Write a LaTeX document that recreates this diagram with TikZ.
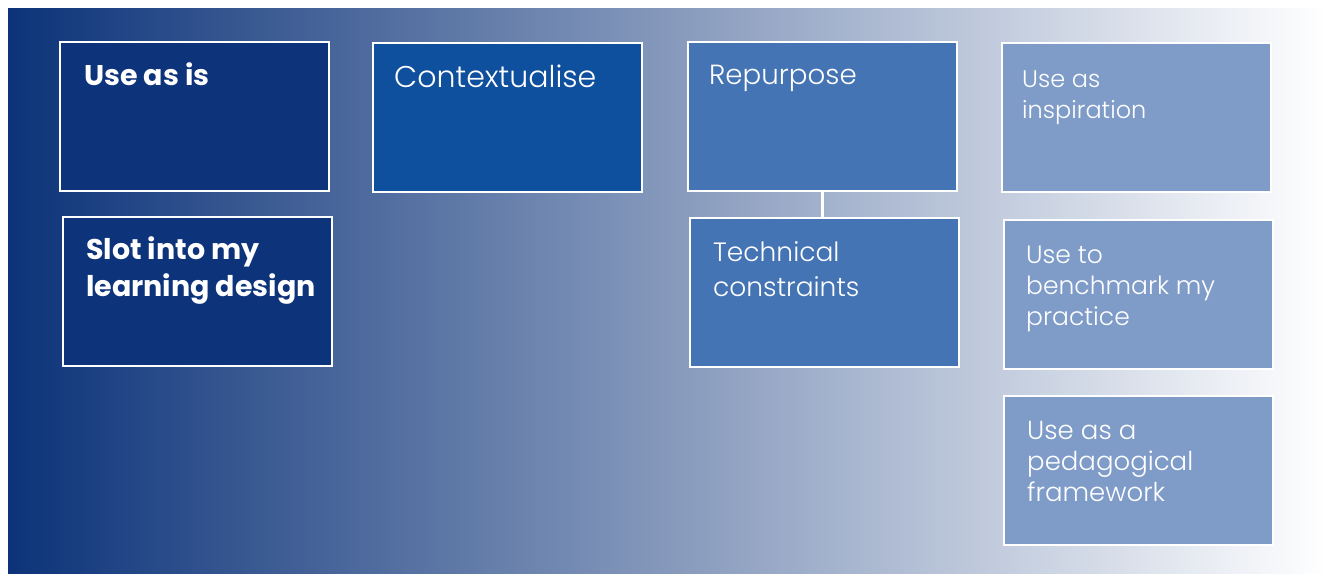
\documentclass[tikz,border=0pt]{standalone}
\usepackage{fontspec}
\setmainfont{Poppins}
\newfontfamily\thinfont{Poppins Light}
\definecolor{bgleft}{RGB}{12,51,121}
\definecolor{bgmid}{RGB}{125,146,188}
\definecolor{navy}{RGB}{13,51,122}
\definecolor{royal}{RGB}{14,79,158}
\definecolor{midblue}{RGB}{69,116,181}
\definecolor{lightblue}{RGB}{127,156,201}
\tikzset{
  box/.style={draw=white, line width=2pt, anchor=north west, inner sep=0pt,
    minimum width=269pt, minimum height=149pt},
  lbl/.style={anchor=north west, text=white, align=left, inner sep=0pt},
  boldlbl/.style={lbl, font=\fontsize{28.5}{37}\bfseries\selectfont},
  thinlbl/.style={lbl, font=\fontsize{#1}{31}\thinfont\selectfont},
  thinlbl/.default=25,
  link/.style={draw=white, line width=3.5pt}
}
\begin{document}
\begin{tikzpicture}[x=1pt,y=-1pt]
\useasboundingbox (0,0) rectangle (1327,573);
\shade[left color=bgleft, middle color=bgmid, right color=white] (8,8) rectangle (1327,573);

\node[box, fill=navy] (useas) at (59,41) {};
\node[box, fill=navy] (slot) at (62,216) {};
\node[box, fill=royal] (context) at (372,42) {};
\node[box, fill=midblue] (repurpose) at (687,41) {};
\node[box, fill=midblue] (tech) at (689,217) {};
\node[box, fill=lightblue] (inspire) at (1001,42) {};
\node[box, fill=lightblue] (bench) at (1003,219) {};
\node[box, fill=lightblue] (frame) at (1003,395) {};

\draw[link] (repurpose.south) -- (repurpose.south |- tech.north);

\node[boldlbl] (tuseas) at (84,62) {Use as is};
\node[boldlbl] (tslot) at (86,236) {Slot into my\\learning design};
\node[thinlbl=30] (tcontext) at (394,65) {Contextualise};
\node[thinlbl=27.7] (trepurpose) at (709,65) {Repurpose};
\node[lbl, font=\fontsize{26.5}{35}\thinfont\selectfont] (ttech) at (713,241) {Technical\\constraints};
\node[thinlbl=24] (tinspire) at (1022,71) {Use as\\inspiration};
\node[thinlbl] (tbench) at (1026,246) {Use to\\benchmark my\\practice};
\node[thinlbl=26] (tframe) at (1027,421) {Use as a\\pedagogical\\framework};
\end{tikzpicture}
\end{document}
